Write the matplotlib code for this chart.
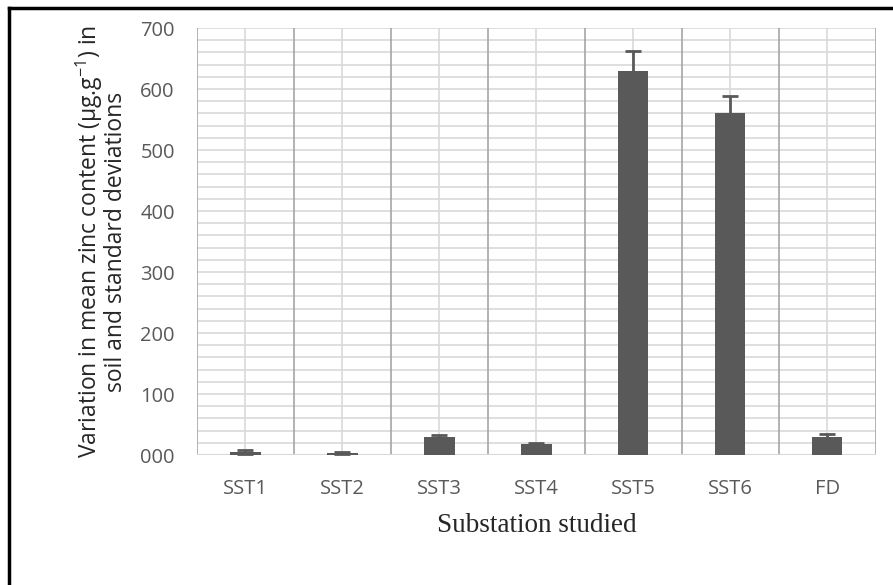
import matplotlib.pyplot as plt
from matplotlib.lines import Line2D

# Mean zinc content in soil per substation, with standard deviations
stations = ['SST1', 'SST2', 'SST3', 'SST4', 'SST5', 'SST6', 'FD']
zinc_mean = [5, 3, 30, 18, 630, 560, 30]
zinc_sd = [4, 2, 3, 2, 32, 28, 5]
y_ticks = [0, 100, 200, 300, 400, 500, 600, 700]

bar_color = '#595959'
text_color = '#595959'

fig = plt.figure(figsize=(8.93, 5.85), dpi=100)
ax = fig.add_axes([0.2206, 0.2222, 0.7603, 0.7299])

x = list(range(len(stations)))
ax.bar(x, zinc_mean, width=0.31, color=bar_color, zorder=3)
ax.errorbar(x, zinc_mean, yerr=zinc_sd, fmt='none', ecolor=bar_color,
            elinewidth=2, capsize=6, capthick=2, zorder=4)

ax.set_xlim(-0.5, len(stations) - 0.5)
ax.set_ylim(0, 700)

# light horizontal grid every 20, vertical lines at category edges and centres
for v in range(20, 701, 20):
    ax.axhline(v, color='#d9d9d9', lw=1.2, zorder=1)
for i in range(len(stations) + 1):
    ax.axvline(i - 0.5, color='#a6a6a6', lw=1.2, zorder=1)
for i in x:
    ax.axvline(i, color='#d9d9d9', lw=1.2, zorder=1)
ax.axhline(0, color='#d9d9d9', lw=1.5, zorder=2)

for s in ax.spines.values():
    s.set_visible(False)

ax.set_yticks(y_ticks)
ax.set_yticklabels([f'{v:03d}' for v in y_ticks], family='Open Sans',
                   fontsize=14.5, color=text_color)
ax.set_xticks(x)
ax.set_xticklabels(stations, family='Open Sans', fontsize=14.5, color=text_color)
ax.tick_params(axis='y', length=0, pad=16)
ax.tick_params(axis='x', length=0, pad=17)

ax.set_xlabel('Substation studied', family='Liberation Serif', fontsize=19.5,
              color='#262626', labelpad=10)
ax.set_ylabel('Variation in mean zinc content (μg.g$^{\\mathregular{-1}}$) in\n'
              'soil and standard deviations', family='Open Sans', fontsize=16.5,
              color='#262626', labelpad=9, linespacing=0.92)

# frame lines along the top and left edges
fig.add_artist(Line2D([0.0101, 0.0101], [0, 0.987], transform=fig.transFigure,
                      color='black', lw=2.5))
fig.add_artist(Line2D([0.0101, 1.0], [0.987, 0.987], transform=fig.transFigure,
                      color='black', lw=2.5))

fig.savefig('out.png', dpi=100, facecolor='white')
